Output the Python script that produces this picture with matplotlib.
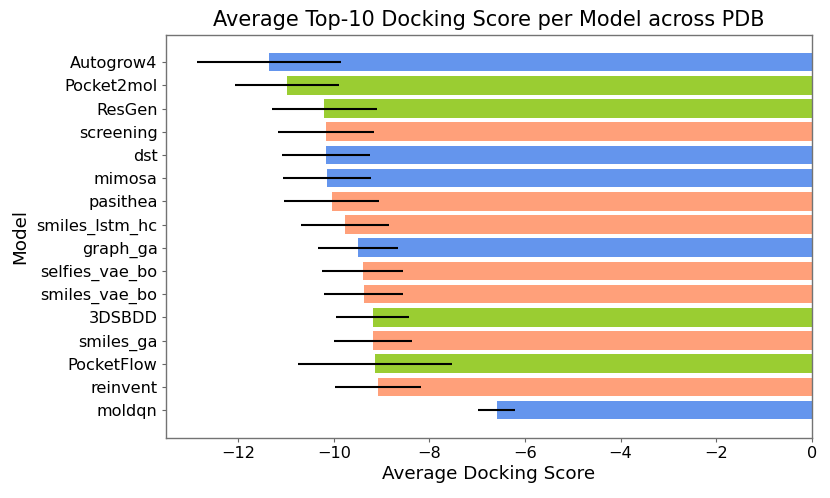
import matplotlib
matplotlib.use("Agg")
import matplotlib.pyplot as plt

models = ["Autogrow4", "Pocket2mol", "ResGen", "screening", "dst", "mimosa",
          "pasithea", "smiles_lstm_hc", "graph_ga", "selfies_vae_bo",
          "smiles_vae_bo", "3DSBDD", "smiles_ga", "PocketFlow", "reinvent", "moldqn"]
scores = [-11.36, -10.98, -10.20, -10.17, -10.16, -10.14, -10.05, -9.76,
          -9.49, -9.40, -9.38, -9.19, -9.18, -9.14, -9.07, -6.59]
errors = [1.51, 1.09, 1.10, 1.00, 0.92, 0.92, 1.00, 0.92,
          0.84, 0.85, 0.83, 0.77, 0.82, 1.62, 0.90, 0.39]
groups = ["blue", "green", "green", "salmon", "blue", "blue", "salmon", "salmon",
          "blue", "salmon", "salmon", "green", "salmon", "green", "salmon", "blue"]
palette = {"blue": "cornflowerblue", "green": "yellowgreen", "salmon": "lightsalmon"}
colors = [palette[g] for g in groups]

fig = plt.figure(figsize=(8.3, 4.98), dpi=100)
ax = fig.add_axes([0.2, 0.121, 0.778, 0.8097])
ax.barh(models, scores, xerr=errors, color=colors, height=0.8,
        error_kw=dict(ecolor="black", elinewidth=1.5, capsize=0))
ax.invert_yaxis()
ax.set_title("Average Top-10 Docking Score per Model across PDB", fontsize=15)
ax.set_xlabel("Average Docking Score", fontsize=13.2, labelpad=3)
ax.set_ylabel("Model", fontsize=13.2, labelpad=5)
ax.tick_params(labelsize=11.6, length=3, color="0.4", pad=3)
for s in ax.spines.values():
    s.set_color("0.45")
    s.set_linewidth(1.0)
fig.savefig("out.png", dpi=100)
